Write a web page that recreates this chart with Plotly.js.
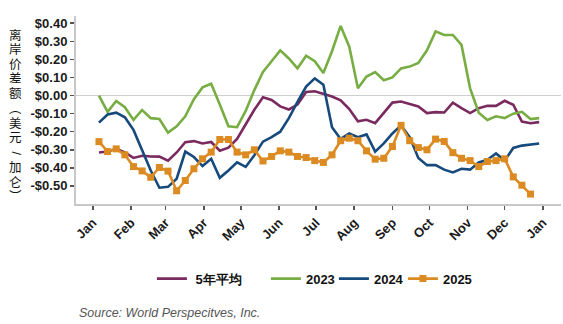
<!DOCTYPE html>
<html>
<head>
<meta charset="utf-8">
<script src="https://cdn.plot.ly/plotly-3.0.1.min.js"></script>
<style>html,body{margin:0;padding:0;background:#fff;}#chart{width:563px;height:324px;}</style>
</head>
<body>
<div id="chart"></div>
<script>
// ---- data ----
const weeks = [
  "2025-01-06","2025-01-13","2025-01-20","2025-01-27",
  "2025-02-03","2025-02-10","2025-02-17","2025-02-24",
  "2025-03-03","2025-03-10","2025-03-17","2025-03-24","2025-03-31",
  "2025-04-07","2025-04-14","2025-04-21","2025-04-28",
  "2025-05-05","2025-05-12","2025-05-19","2025-05-26",
  "2025-06-02","2025-06-09","2025-06-16","2025-06-23","2025-06-30",
  "2025-07-07","2025-07-14","2025-07-21","2025-07-28",
  "2025-08-04","2025-08-11","2025-08-18","2025-08-25",
  "2025-09-01","2025-09-08","2025-09-15","2025-09-22","2025-09-29",
  "2025-10-06","2025-10-13","2025-10-20","2025-10-27",
  "2025-11-03","2025-11-10","2025-11-17","2025-11-24",
  "2025-12-01","2025-12-08","2025-12-15","2025-12-22","2025-12-29"
];
const avg5 = [-0.315,-0.31,-0.295,-0.315,-0.345,-0.333,-0.337,-0.338,-0.36,-0.315,
  -0.258,-0.252,-0.265,-0.257,-0.305,-0.288,-0.24,-0.158,-0.079,-0.01,
  -0.024,-0.06,-0.077,-0.05,0.02,0.024,0.008,-0.005,-0.026,-0.075,
  -0.142,-0.134,-0.153,-0.097,-0.039,-0.033,-0.046,-0.06,-0.097,-0.092,
  -0.094,-0.039,-0.07,-0.097,-0.07,-0.057,-0.057,-0.029,-0.051,-0.144,
  -0.153,-0.147];
const y2023 = [0.00,-0.09,-0.03,-0.065,-0.135,-0.08,-0.125,-0.13,-0.205,-0.17,
  -0.115,-0.02,0.045,0.065,-0.05,-0.17,-0.175,-0.085,0.03,0.13,
  0.19,0.25,0.205,0.15,0.22,0.19,0.125,0.245,0.385,0.27,
  0.04,0.105,0.13,0.085,0.10,0.15,0.16,0.18,0.25,0.355,
  0.335,0.335,0.28,0.04,-0.095,-0.135,-0.115,-0.125,-0.10,-0.09,
  -0.13,-0.125];
const y2024 = [-0.15,-0.105,-0.095,-0.12,-0.19,-0.305,-0.415,-0.51,-0.505,-0.46,
  -0.31,-0.34,-0.39,-0.35,-0.455,-0.415,-0.37,-0.395,-0.33,-0.255,
  -0.23,-0.2,-0.125,-0.035,0.05,0.095,0.06,-0.175,-0.24,-0.21,
  -0.23,-0.215,-0.31,-0.265,-0.21,-0.165,-0.23,-0.345,-0.385,-0.385,
  -0.41,-0.425,-0.405,-0.41,-0.37,-0.355,-0.32,-0.36,-0.29,-0.277,
  -0.273,-0.265];
const y2025 = [-0.255,-0.31,-0.295,-0.328,-0.393,-0.417,-0.452,-0.398,-0.418,-0.527,
  -0.47,-0.405,-0.35,-0.313,-0.243,-0.243,-0.313,-0.328,-0.3,-0.362,
  -0.337,-0.306,-0.313,-0.337,-0.343,-0.36,-0.37,-0.328,-0.25,-0.236,
  -0.25,-0.306,-0.352,-0.347,-0.282,-0.165,-0.25,-0.288,-0.3,-0.241,
  -0.254,-0.316,-0.347,-0.36,-0.393,-0.365,-0.36,-0.35,-0.45,-0.496,
  -0.545];
const seriesNames = ["5年平均","2023","2024","2025"];
const monthTickVals = ["2025-01-01","2025-02-01","2025-03-01","2025-04-01","2025-05-01","2025-06-01",
  "2025-07-01","2025-08-01","2025-09-01","2025-10-01","2025-11-01","2025-12-01","2026-01-01"];
const monthTickText = ["Jan","Feb","Mar","Apr","May","Jun","Jul","Aug","Sep","Oct","Nov","Dec","Jan"];
const yTickVals = [0.4,0.3,0.2,0.1,0,-0.1,-0.2,-0.3,-0.4,-0.5];
const yTickText = ["$0.40","$0.30","$0.20","$0.10","$0.00","-$0.10","-$0.20","-$0.30","-$0.40","-$0.50"];
const yTitleChars = ["离","岸","价","差","额","︵","美","元","/","加","仑","︶"];
const sourceText = "Source: World Perspecitves, Inc.";

// ---- styling ----
const colors = {avg:"#7a2a5f", g:"#77ad43", b:"#164a7c", o:"#db8b22"};
const FONT = "Liberation Sans, Arial, sans-serif";

const traces = [
  {x: weeks, y: avg5, name: "\u00a0" + seriesNames[0], mode: "lines", legendwidth: 69,
   line: {color: colors.avg, width: 2.6}},
  {x: weeks, y: y2023, name: seriesNames[1], mode: "lines", legendwidth: 23,
   line: {color: colors.g, width: 2.6}},
  {x: weeks, y: y2024, name: seriesNames[2], mode: "lines", legendwidth: 24,
   line: {color: colors.b, width: 2.6}},
  {x: weeks.slice(0, y2025.length), y: y2025, name: seriesNames[3], mode: "lines+markers", legendwidth: 32,
   line: {color: colors.o, width: 2.6}, marker: {symbol: "square", size: 7, color: colors.o}}
];

const annotations = yTitleChars.map((c, i) => ({
  text: c, xref: "paper", yref: "paper",
  x: -0.1246, y: 1 - (35.5 - 16.4 + i * 14.75) / 188,
  xanchor: "center", yanchor: "middle", showarrow: false,
  textangle: c === "/" ? 90 : 0,
  font: {family: "Liberation Sans, Noto Sans CJK SC", size: 12.5, color: "#111"}
}));
annotations.push({
  text: "<i>" + sourceText + "</i>", xref: "paper", yref: "paper",
  x: 0.002, y: (204.4 - 313.6) / 188, xanchor: "left", yanchor: "middle", showarrow: false,
  font: {family: FONT, size: 12.5, color: "#555"}
});

const layout = {
  width: 563, height: 324,
  margin: {l: 75.5, r: 2, t: 16.4, b: 119.6, pad: 0},
  paper_bgcolor: "#fff", plot_bgcolor: "#fff",
  font: {family: FONT, color: "#1a1a1a"},
  showlegend: true,
  legend: {orientation: "h", x: (151.5 - 75.5) / 485.5, xanchor: "left", y: -0.397, yanchor: "middle",
    font: {family: FONT, size: 13, color: "#111", weight: "bold"}, itemwidth: 30, tracegroupgap: 0},
  xaxis: {
    type: "date", range: ["2024-12-18 09:00", "2026-01-15 17:00"],
    tickvals: monthTickVals, ticktext: monthTickText, tickangle: -45,
    tickfont: {family: FONT, size: 13, color: "#1a1a1a", weight: "bold"},
    ticks: "outside", ticklen: 4, tickwidth: 1.5, tickcolor: "#555",
    showline: true, linecolor: "#c8c8c8", linewidth: 2,
    showgrid: false, zeroline: false
  },
  yaxis: {
    range: [-0.60, 0.44],
    tickvals: yTickVals, ticktext: yTickText,
    tickfont: {family: FONT, size: 13, color: "#1a1a1a", weight: "bold"},
    ticks: "outside", ticklen: 4, tickwidth: 1.5, tickcolor: "#555",
    showline: true, linecolor: "#c8c8c8", linewidth: 2,
    showgrid: false, zeroline: true, zerolinecolor: "#cfcfcf", zerolinewidth: 1.5
  },
  annotations: annotations
};

Plotly.newPlot("chart", traces, layout, {staticPlot: true, displayModeBar: false});
</script>
</body>
</html>
